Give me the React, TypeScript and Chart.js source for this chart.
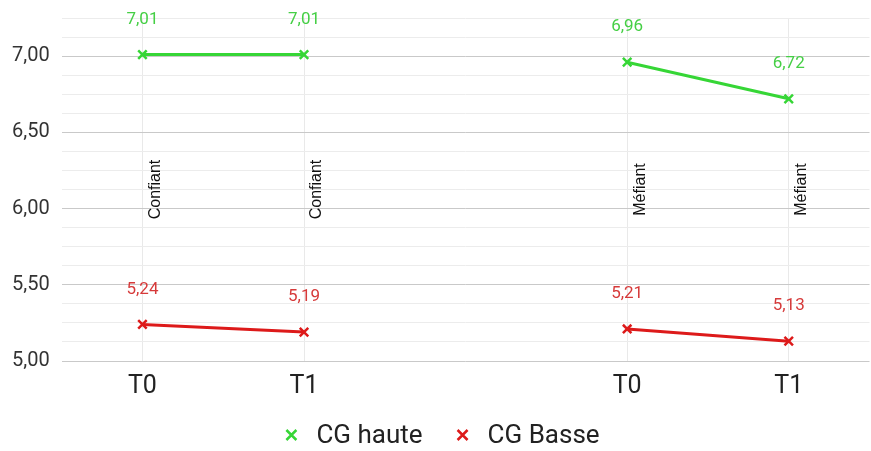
import React, { useEffect, useRef } from "react";
import { Chart, registerables } from "chart.js";

Chart.register(...registerables);

const categories = ["T0", "T1", "", "T0", "T1"];
const groupLabels = ["Confiant", "Confiant", "", "Méfiant", "Méfiant"];
const cgHaute = [7.01, 7.01, null, 6.96, 6.72];
const cgBasse = [5.24, 5.19, null, 5.21, 5.13];
const seriesNames = ["CG haute", "CG Basse"];
const yMajorTicks = [5.0, 5.5, 6.0, 6.5, 7.0];
const groupLabelValue = 6.125;

const GREEN = "#36d636";
const GREEN_TEXT = "#45cf45";
const RED = "#dd1a1a";
const RED_TEXT = "#d63a3a";

const fmt = (v: number) => v.toFixed(2).replace(".", ",");

const valueLabels = {
  id: "valueLabels",
  afterDatasetsDraw(chart: any) {
    const ctx = chart.ctx;
    ctx.save();
    ctx.font = "17px Roboto";
    ctx.textAlign = "center";
    ctx.textBaseline = "middle";
    chart.data.datasets.forEach((ds: any, i: number) => {
      const meta = chart.getDatasetMeta(i);
      ctx.fillStyle = ds.labelColor;
      meta.data.forEach((pt: any, j: number) => {
        const v = ds.data[j];
        if (v === null || v === undefined) return;
        ctx.fillText(fmt(v), pt.x, pt.y - 35);
      });
    });
    ctx.restore();
  },
};

const groupText = {
  id: "groupText",
  afterDatasetsDraw(chart: any) {
    const ctx = chart.ctx;
    const xs = chart.scales.x;
    const ys = chart.scales.y;
    ctx.save();
    ctx.font = "16px 'Liberation Sans Narrow', 'Liberation Sans', sans-serif";
    ctx.fillStyle = "#111";
    ctx.textAlign = "center";
    ctx.textBaseline = "middle";
    groupLabels.forEach((lab, i) => {
      if (!lab) return;
      const x = xs.getPixelForValue(i) + 13;
      const y = ys.getPixelForValue(groupLabelValue);
      ctx.save();
      ctx.translate(x, y);
      ctx.rotate(-Math.PI / 2);
      ctx.fillText(lab, 0, 0);
      ctx.restore();
    });
    ctx.restore();
  },
};

const bottomLegend = {
  id: "bottomLegend",
  afterDraw(chart: any) {
    const ctx = chart.ctx;
    ctx.save();
    ctx.font = "26px Roboto";
    ctx.textBaseline = "middle";
    ctx.textAlign = "left";
    const markToText = 25;
    const itemGap = 40;
    const widths = chart.data.datasets.map((ds: any) => ctx.measureText(ds.label).width);
    let total = 0;
    widths.forEach((w: number, i: number) => {
      total += markToText + w + (i > 0 ? itemGap : 5);
    });
    let x = 443 - total / 2 + 5;
    const y = 435;
    chart.data.datasets.forEach((ds: any, i: number) => {
      const s = 5;
      ctx.strokeStyle = ds.borderColor;
      ctx.lineWidth = 2.5;
      ctx.beginPath();
      ctx.moveTo(x - s, y - s);
      ctx.lineTo(x + s, y + s);
      ctx.moveTo(x - s, y + s);
      ctx.lineTo(x + s, y - s);
      ctx.stroke();
      ctx.fillStyle = "#222";
      ctx.fillText(ds.label, x + markToText, y + 1);
      x += markToText + widths[i] + itemGap;
    });
    ctx.restore();
  },
};

export default function App() {
  const ref = useRef<HTMLCanvasElement>(null);
  useEffect(() => {
    if (!ref.current) return;
    const chart = new Chart(ref.current, {
      type: "line",
      data: {
        labels: categories,
        datasets: [
          {
            label: seriesNames[0],
            data: cgHaute,
            borderColor: GREEN,
            backgroundColor: GREEN,
            borderWidth: 3,
            pointStyle: "crossRot",
            pointRadius: 6,
            pointBorderWidth: 2.5,
            spanGaps: false,
            labelColor: GREEN_TEXT,
          } as any,
          {
            label: seriesNames[1],
            data: cgBasse,
            borderColor: RED,
            backgroundColor: RED,
            borderWidth: 3,
            pointStyle: "crossRot",
            pointRadius: 6,
            pointBorderWidth: 2.5,
            spanGaps: false,
            labelColor: RED_TEXT,
          } as any,
        ],
      },
      options: {
        responsive: true,
        maintainAspectRatio: false,
        animation: false,
        devicePixelRatio: 1,
        layout: { padding: { left: 0, top: 18, right: 0, bottom: 38 } },
        scales: {
          x: {
            offset: true,
            grid: {
              offset: false,
              drawTicks: false,
              color: (c: any) => (categories[c.index] ? "#e9e9e9" : "rgba(0,0,0,0)"),
            },
            border: { display: false },
            ticks: {
              padding: 11,
              color: "#222",
              font: { family: "Roboto", size: 25 },
              autoSkip: false,
              maxRotation: 0,
            },
          },
          y: {
            min: 5,
            max: 7.25,
            border: { display: false },
            afterFit: (scale: any) => {
              scale.paddingTop = 0;
            },
            grid: {
              drawTicks: false,
              color: (c: any) => {
                const v = c.tick ? c.tick.value : 0;
                return yMajorTicks.some((m) => Math.abs(m - v) < 1e-6) ? "#c9c9c9" : "#ececec";
              },
              lineWidth: 1,
            },
            ticks: {
              stepSize: 0.125,
              autoSkip: false,
              padding: 12,
              color: "#333",
              font: { family: "Roboto", size: 20 },
              callback: (v: any) =>
                yMajorTicks.some((m) => Math.abs(m - Number(v)) < 1e-6) ? fmt(Number(v)) : "",
            },
          },
        },
        plugins: {
          legend: { display: false },
          tooltip: { enabled: false },
        },
      },
      plugins: [valueLabels, groupText, bottomLegend],
    });
    return () => chart.destroy();
  }, []);
  return (
    <div
      style={{
        position: "absolute",
        left: 0,
        top: 0,
        width: 871,
        height: 451,
        overflow: "hidden",
        background: "#fff",
      }}
    >
      <div style={{ position: "relative", width: 878, height: 451 }}>
        <canvas ref={ref} />
      </div>
    </div>
  );
}
